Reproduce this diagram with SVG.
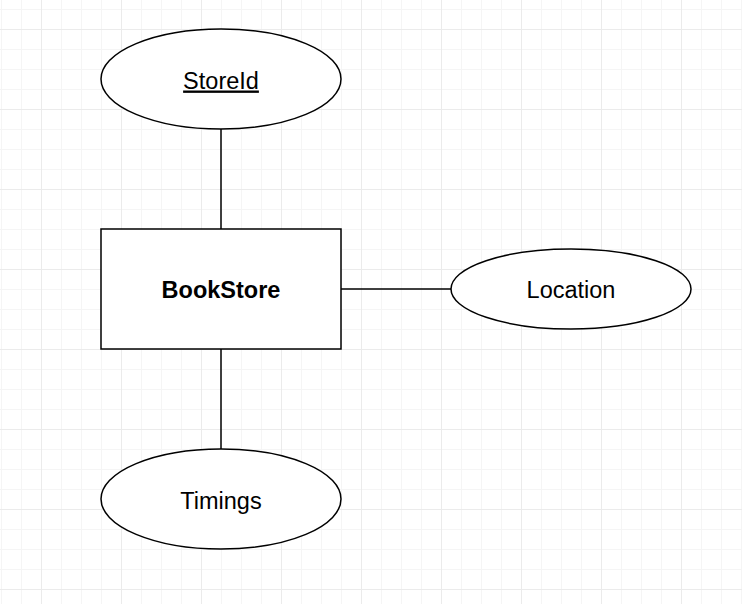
<svg xmlns="http://www.w3.org/2000/svg" width="742" height="604" viewBox="0 0 742 604">
  <style>
    .shape { fill: #ffffff; stroke: #000000; stroke-width: 1.5; }
    .edge { fill: none; stroke: #000000; stroke-width: 1.5; }
    .label { font-family: "Liberation Sans", Arial, Helvetica, sans-serif; font-size: 23.5px; fill: #000000; text-anchor: middle; }
    .bold { font-weight: bold; }
    .key { text-decoration: underline; }
  </style>
  <defs>
    <pattern id="minor" x="1" y="9" width="20" height="20" patternUnits="userSpaceOnUse">
      <rect x="0" y="0" width="1" height="20" fill="#f5f5f5"/>
      <rect x="0" y="0" width="20" height="1" fill="#f5f5f5"/>
    </pattern>
    <pattern id="major" x="41" y="29" width="80" height="80" patternUnits="userSpaceOnUse">
      <rect x="0" y="0" width="1" height="80" fill="#ebebeb"/>
      <rect x="0" y="0" width="80" height="1" fill="#ebebeb"/>
    </pattern>
  </defs>
  <rect x="0" y="0" width="742" height="604" fill="#ffffff"/>
  <rect x="0" y="0" width="742" height="604" fill="url(#minor)"/>
  <rect x="0" y="0" width="742" height="604" fill="url(#major)"/>

  <g id="connectors">
    <line class="edge" x1="221" y1="129" x2="221" y2="229"/>
    <line class="edge" x1="341" y1="289" x2="451" y2="289"/>
    <line class="edge" x1="221" y1="349" x2="221" y2="449"/>
  </g>

  <g id="storeid">
    <ellipse class="shape" cx="221" cy="79" rx="120" ry="50"/>
    <text class="label key" x="221" y="88.5">StoreId</text>
  </g>
  <g id="bookstore">
    <rect class="shape" x="101" y="229" width="240" height="120"/>
    <text class="label bold" x="221" y="297.5">BookStore</text>
  </g>
  <g id="location">
    <ellipse class="shape" cx="571" cy="289" rx="120" ry="40"/>
    <text class="label" x="571" y="298">Location</text>
  </g>
  <g id="timings">
    <ellipse class="shape" cx="221" cy="499" rx="120" ry="50"/>
    <text class="label" x="221" y="508.5">Timings</text>
  </g>
</svg>
